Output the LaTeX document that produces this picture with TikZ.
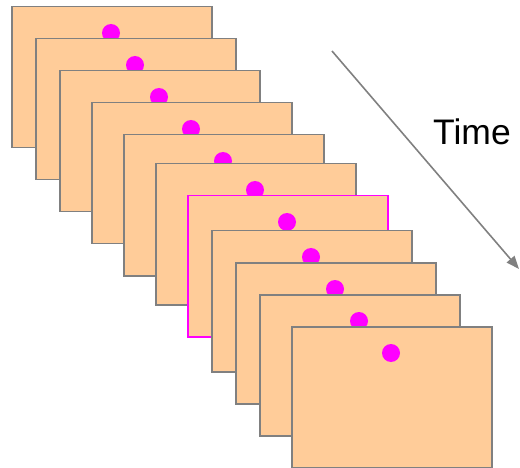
\documentclass[tikz,border=0pt]{standalone}
\usepackage{fontspec}
\setmainfont{Liberation Sans}
\usetikzlibrary{arrows.meta}
\definecolor{peach}{RGB}{255,204,153}
\definecolor{framegray}{RGB}{128,128,128}
\definecolor{dotpink}{RGB}{255,0,255}
\tikzset{shot/.style={rectangle, draw=framegray, fill=peach, line width=1.5pt, minimum width=200pt, minimum height=141pt, anchor=north west, inner sep=0pt}}
\tikzset{ball/.style={circle, fill=dotpink, minimum size=18pt, inner sep=0pt}}
\tikzset{timeflow/.style={-{Triangle[length=13pt, width=10pt]}, draw=framegray, line width=1.6pt}}
\newcommand{\shot}[1]{ node[shot, name={#1}] {} ++(100,27) node[ball, name={#1dot}] {}}
\newcommand{\shotpink}[1]{ node[shot, draw=dotpink, name={#1}] {} ++(100,27) node[ball, name={#1dot}] {}}

\begin{document}
\begin{tikzpicture}[x=1pt, y=-1pt]
  \useasboundingbox (0,0) rectangle (520,468);

  % --- stack of frames ---
  \draw (11,6) \shot{f1};
  \draw (35,38) \shot{f2};
  \draw (59,70) \shot{f3};
  \draw (91,102) \shot{f4};
  \draw (123,134) \shot{f5};
  \draw (155,163) \shot{f6};
  \draw (187,195) \shotpink{f7};
  \draw (211,230) \shot{f8};
  \draw (235,262) \shot{f9};
  \draw (259,294) \shot{f10};
  \draw (291,326) \shot{f11};

  % --- time arrow ---
  \coordinate (tstart) at (332,51);
  \coordinate (tend) at (519,269);
  \draw[timeflow] (tstart) -- (tend);
  \node[font=\fontsize{35.5}{40}\selectfont] (timelabel) at (472,132) {Time};
\end{tikzpicture}
\end{document}
